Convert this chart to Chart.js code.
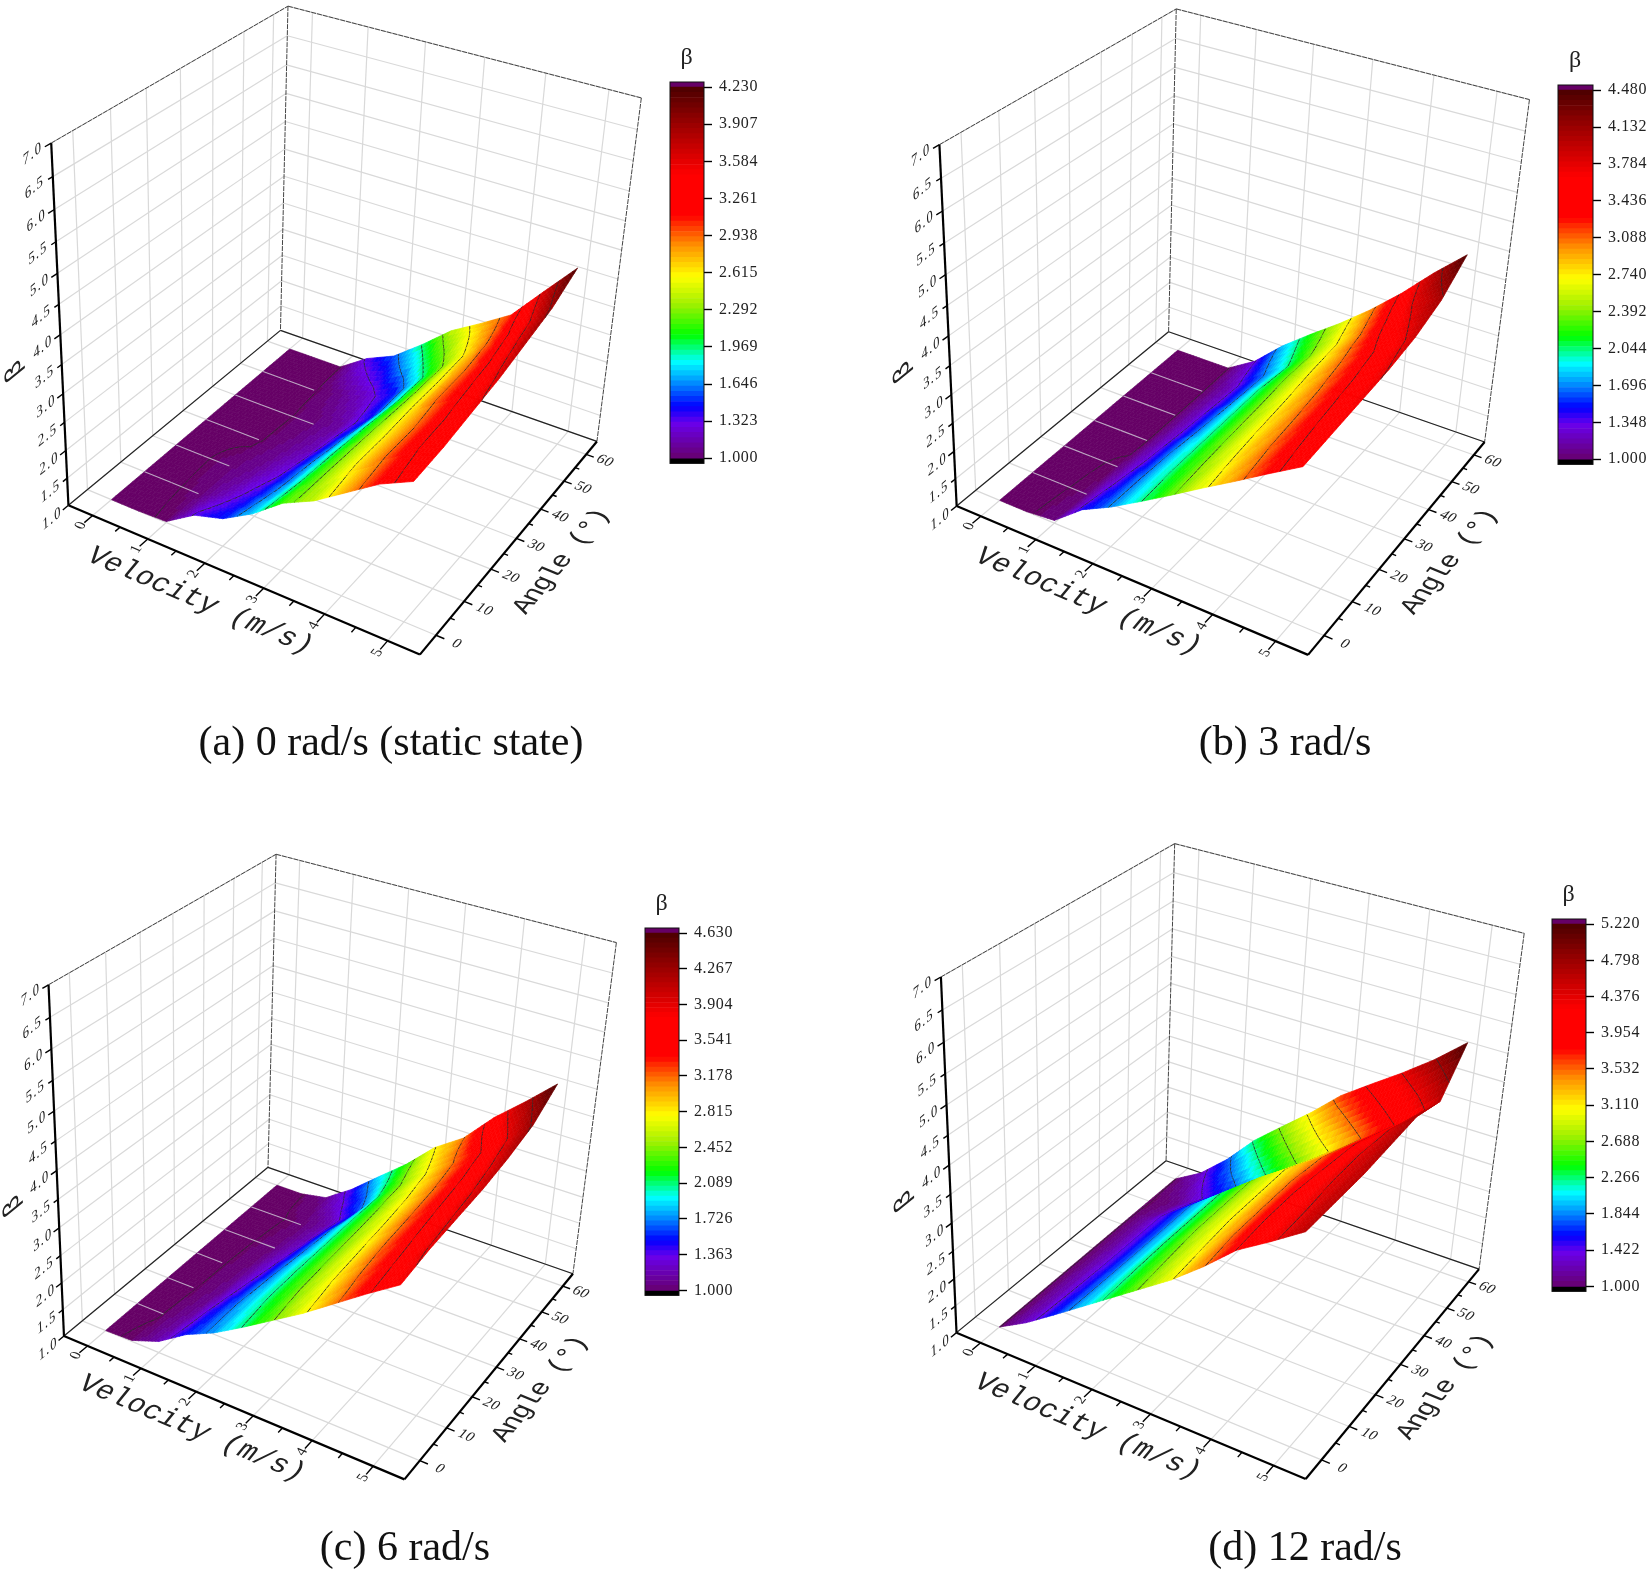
<!DOCTYPE html>
<html>
<head>
<meta charset="utf-8">
<title>Beta surfaces</title>
<script src="https://cdn.jsdelivr.net/npm/chart.js@4/dist/chart.umd.min.js"></script>
<style>
  html, body { margin: 0; background: #fff; }
  #page { position: relative; width: 1652px; height: 1574px; overflow: hidden; }
  #page canvas { position: absolute; }
  .caption { position: absolute; transform: translate(-50%, -50%); font: 42px "Liberation Serif", serif; color: #111; white-space: nowrap; }
</style>
</head>
<body>
<div id="page"></div>
<script>
// Axis values
const velocities = [0, 0.5, 1, 1.5, 2, 2.5, 3, 3.5, 4, 4.5, 5];
const angles = [0, 10, 20, 30, 40, 50, 60];
const velocityTicks = [0, 1, 2, 3, 4, 5];
const angleTicks = [0, 10, 20, 30, 40, 50, 60];
const betaTicks = [1, 1.5, 2, 2.5, 3, 3.5, 4, 4.5, 5, 5.5, 6, 6.5, 7];

// Beta, one row per angle, one column per velocity
const betaA = [
  [1, 1, 1.02, 1.35, 1.5, 1.8, 2.2, 2.45, 2.8, 3.15, 3.4],
  [1, 1, 1.03, 1.2, 1.4, 1.72, 2.15, 2.5, 2.85, 3.2, 3.45],
  [1, 1, 1.04, 1.12, 1.3, 1.68, 2.12, 2.5, 2.85, 3.2, 3.55],
  [1, 1, 1, 1.08, 1.2, 1.6, 2.08, 2.5, 2.9, 3.25, 3.65],
  [1, 1, 1, 1.05, 1.15, 1.48, 2.02, 2.5, 2.9, 3.3, 3.8],
  [1, 1, 1, 1.1, 1.25, 1.5, 2, 2.5, 2.95, 3.4, 3.95],
  [1, 1, 1, 1.35, 1.58, 1.98, 2.42, 2.73, 3.06, 3.65, 4.23]
];
const betaB = [
  [1, 1, 1.05, 1.46, 1.72, 2.03, 2.35, 2.68, 3, 3.33, 3.65],
  [1, 1, 1.03, 1.38, 1.72, 2.05, 2.38, 2.72, 3.05, 3.38, 3.7],
  [1, 1, 1.02, 1.32, 1.7, 2.05, 2.4, 2.75, 3.08, 3.42, 3.75],
  [1, 1, 1, 1.28, 1.66, 2.05, 2.42, 2.78, 3.12, 3.46, 3.8],
  [1, 1, 1, 1.25, 1.62, 2.05, 2.45, 2.82, 3.18, 3.52, 3.9],
  [1, 1, 1, 1.22, 1.6, 2, 2.45, 2.85, 3.3, 3.75, 4.1],
  [1, 1, 1, 1.32, 1.8, 2.2, 2.58, 3, 3.47, 4, 4.48]
];
const betaC = [
  [1, 1.02, 1.21, 1.55, 1.79, 2.1, 2.43, 2.76, 3.13, 3.5, 3.85],
  [1, 1.01, 1.15, 1.5, 1.82, 2.14, 2.48, 2.82, 3.2, 3.55, 3.95],
  [1, 1, 1.1, 1.42, 1.8, 2.15, 2.5, 2.85, 3.25, 3.6, 4],
  [1, 1, 1.08, 1.35, 1.75, 2.15, 2.52, 2.88, 3.28, 3.65, 4.05],
  [1, 1, 1.05, 1.25, 1.7, 2.15, 2.55, 2.92, 3.32, 3.7, 4.15],
  [1, 1, 1.03, 1.18, 1.55, 2.15, 2.6, 3, 3.38, 3.8, 4.3],
  [1, 1, 1.1, 1.45, 1.88, 2.3, 2.8, 3.15, 3.7, 4.15, 4.63]
];
const betaD = [
  [1, 1.29, 1.64, 2, 2.36, 2.72, 3.08, 3.5, 3.97, 4.3, 4.65],
  [1, 1.27, 1.62, 2, 2.38, 2.76, 3.12, 3.55, 4, 4.32, 4.65],
  [1, 1.26, 1.6, 2, 2.4, 2.8, 3.15, 3.55, 4, 4.35, 4.65],
  [1, 1.25, 1.6, 2, 2.4, 2.8, 3.15, 3.55, 3.95, 4.35, 4.7],
  [1, 1.25, 1.6, 2, 2.4, 2.8, 3.15, 3.5, 3.9, 4.3, 4.75],
  [1, 1.1, 1.4, 1.7, 2.1, 2.5, 2.9, 3.3, 3.7, 4.1, 4.6],
  [1, 1.3, 1.75, 2.3, 2.74, 3.17, 3.65, 4.02, 4.38, 4.77, 5.22]
];

// Colour bar tick labels
const barTicksA = [1, 1.323, 1.646, 1.969, 2.292, 2.615, 2.938, 3.261, 3.584, 3.907, 4.23];
const barTicksB = [1, 1.348, 1.696, 2.044, 2.392, 2.74, 3.088, 3.436, 3.784, 4.132, 4.48];
const barTicksC = [1, 1.363, 1.726, 2.089, 2.452, 2.815, 3.178, 3.541, 3.904, 4.267, 4.63];
const barTicksD = [1, 1.422, 1.844, 2.266, 2.688, 3.11, 3.532, 3.954, 4.376, 4.798, 5.22];

const captions = ['(a) 0 rad/s (static state)', '(b) 3 rad/s', '(c) 6 rad/s', '(d) 12 rad/s'];

// Layout: box corners on screen (O, U, UV, V, W, VW, UVW), colour bar box, caption centre
const panels = [
  { left: 0, top: 0, beta: betaA, ticks: barTicksA, caption: captions[0], capX: 391, capY: 741,
    box: [[68.5, 505], [419.9, 654.8], [597, 441.2], [280.3, 330.7], [51.1, 143.2], [288.2, 6], [641.2, 98]],
    bar: [670, 82, 34, 382] },
  { left: 826, top: 0, beta: betaB, ticks: barTicksB, caption: captions[1], capX: 1285, capY: 741,
    box: [[130.7, 506], [482.1, 654.8], [658.6, 442.2], [342.5, 331.7], [113.3, 144.7], [350.4, 9], [703.4, 99.5]],
    bar: [732, 84.5, 35, 380.5] },
  { left: 0, top: 787, beta: betaC, ticks: barTicksC, caption: captions[2], capX: 405, capY: 1546,
    box: [[64.3, 549.2], [404.1, 692.5], [573.2, 486.4], [267.7, 380.4], [48.5, 197.5], [276.1, 67.3], [616.4, 155.8]],
    bar: [645, 140.5, 34, 368] },
  { left: 826, top: 787, beta: betaD, ticks: barTicksD, caption: captions[3], capX: 1305, capY: 1546,
    box: [[130.7, 545.2], [479.5, 692.5], [653.3, 481.4], [339.8, 374.4], [114.9, 190], [348.8, 56.3], [698.1, 146.7]],
    bar: [726, 131.5, 34, 373] }
];

const VMIN = -0.45, VMAX = 5.5, AMIN = -5.5, AMAX = 65, BMIN = 1, BMAX = 7;
const PANEL_W = 826, PANEL_H = 787;
const SERIF = '"Liberation Serif", serif';
const MONO = '"Liberation Mono", monospace';

// Rainbow colour map, t from 0 to 1
const colorStops = [
  [0, 102, 0, 102], [0.1, 106, 0, 235], [0.146, 0, 0, 255], [0.21, 0, 144, 255],
  [0.266, 0, 255, 255], [0.338, 0, 255, 0], [0.42, 160, 240, 0], [0.495, 255, 255, 0],
  [0.58, 255, 144, 0], [0.64, 255, 40, 0], [0.66, 255, 0, 0], [0.77, 255, 0, 0],
  [0.92, 144, 0, 0], [1, 80, 0, 0]
];

function colorAt(t) {
  t = Math.max(0, Math.min(1, Math.round(t * 72) / 72));
  for (let i = 1; i < colorStops.length; i++) {
    if (t <= colorStops[i][0]) {
      const a = colorStops[i - 1], b = colorStops[i];
      const k = (t - a[0]) / (b[0] - a[0]);
      return `rgb(${Math.round(a[1] + k * (b[1] - a[1]))},${Math.round(a[2] + k * (b[2] - a[2]))},${Math.round(a[3] + k * (b[3] - a[3]))})`;
    }
  }
  return 'rgb(80,0,0)';
}

// Fit a perspective camera to the seven visible box corners
function fitCamera(box) {
  const unit = [[0, 0, 0], [1, 0, 0], [1, 1, 0], [0, 1, 0], [0, 0, 1], [0, 1, 1], [1, 1, 1]];
  const rows = [], rhs = [];
  unit.forEach((c, i) => {
    const X = box[i][0] / 500, Y = box[i][1] / 500;
    rows.push([1, c[0], c[1], c[2], 0, 0, 0, 0, -X * c[0], -X * c[1], -X * c[2]]); rhs.push(X);
    rows.push([0, 0, 0, 0, 1, c[0], c[1], c[2], -Y * c[0], -Y * c[1], -Y * c[2]]); rhs.push(Y);
  });
  const n = 11;
  const m = [];
  for (let i = 0; i < n; i++) {
    m.push(new Array(n + 1).fill(0));
    for (let j = 0; j < n; j++) rows.forEach(r => { m[i][j] += r[i] * r[j]; });
    rows.forEach((r, k) => { m[i][n] += r[i] * rhs[k]; });
  }
  for (let i = 0; i < n; i++) {
    let p = i;
    for (let k = i + 1; k < n; k++) if (Math.abs(m[k][i]) > Math.abs(m[p][i])) p = k;
    [m[i], m[p]] = [m[p], m[i]];
    for (let k = 0; k < n; k++) {
      if (k === i) continue;
      const f = m[k][i] / m[i][i];
      for (let j = i; j <= n; j++) m[k][j] -= f * m[i][j];
    }
  }
  const q = m.map((r, i) => r[n] / r[i]);
  return function (v, a, b) {
    const u = (v - VMIN) / (VMAX - VMIN), s = (a - AMIN) / (AMAX - AMIN), w = (b - BMIN) / (BMAX - BMIN);
    const d = 1 + q[8] * u + q[9] * s + q[10] * w;
    return [500 * (q[0] + q[1] * u + q[2] * s + q[3] * w) / d, 500 * (q[4] + q[5] * u + q[6] * s + q[7] * w) / d];
  };
}

// Draws walls, floor, axes and the surface through the chart's x and y scales
function makeSurfacePlugin(panel, project) {
  return {
    id: 'surface3d',
    afterDatasetsDraw(chart) {
      const { ctx, scales } = chart;
      const pt = (v, a, b) => {
        const p = project(v, a, b);
        return [scales.x.getPixelForValue(p[0]), scales.y.getPixelForValue(p[1])];
      };
      const line = (p, q, color, width, dash) => {
        ctx.beginPath();
        ctx.moveTo(p[0], p[1]);
        ctx.lineTo(q[0], q[1]);
        ctx.strokeStyle = color;
        ctx.lineWidth = width;
        ctx.setLineDash(dash || []);
        ctx.stroke();
        ctx.setLineDash([]);
      };
      const dir = (p, q) => Math.atan2(q[1] - p[1], q[0] - p[0]);
      const label = (text, at, xAngle, yAngle, font, spacing) => {
        ctx.save();
        ctx.translate(at[0], at[1]);
        ctx.transform(Math.cos(xAngle), Math.sin(xAngle), Math.cos(yAngle), Math.sin(yAngle), 0, 0);
        ctx.font = font;
        ctx.letterSpacing = (spacing || 0) + 'px';
        ctx.textAlign = 'center';
        ctx.textBaseline = 'middle';
        ctx.fillStyle = '#222';
        ctx.fillText(text, 0, 0);
        ctx.restore();
      };

      // Grid lines on the two walls and the floor
      const grey = '#d9d9d9';
      betaTicks.forEach(b => {
        line(pt(VMIN, AMIN, b), pt(VMIN, AMAX, b), grey, 1.2);
        line(pt(VMIN, AMAX, b), pt(VMAX, AMAX, b), grey, 1.2);
      });
      angleTicks.forEach(a => {
        line(pt(VMIN, a, BMIN), pt(VMIN, a, BMAX), grey, 1.2);
        line(pt(VMIN, a, BMIN), pt(VMAX, a, BMIN), grey, 1.2);
      });
      velocityTicks.forEach(v => {
        line(pt(v, AMAX, BMIN), pt(v, AMAX, BMAX), grey, 1.2);
        line(pt(v, AMIN, BMIN), pt(v, AMAX, BMIN), grey, 1.2);
      });

      // Frame
      const frame = '#444';
      line(pt(VMIN, AMIN, BMAX), pt(VMIN, AMAX, BMAX), frame, 1, [5, 1]);
      line(pt(VMIN, AMAX, BMAX), pt(VMAX, AMAX, BMAX), frame, 1, [5, 1]);
      line(pt(VMAX, AMAX, BMAX), pt(VMAX, AMAX, BMIN), frame, 1, [5, 1]);
      line(pt(VMIN, AMAX, BMAX), pt(VMIN, AMAX, BMIN), frame, 1, [5, 1]);
      line(pt(VMIN, AMIN, BMIN), pt(VMIN, AMAX, BMIN), '#222', 1.2);
      line(pt(VMIN, AMAX, BMIN), pt(VMAX, AMAX, BMIN), '#222', 1.2);

      // Surface, far cells first, each cell cut into small coloured pieces
      const beta = panel.beta;
      const top = panel.ticks[panel.ticks.length - 1];
      const levels = [1.012].concat(panel.ticks.slice(1, -1));
      const steps = 8;
      const valueAt = (i, j, s, t) =>
        (beta[j][i] * (1 - s) + beta[j][i + 1] * s) * (1 - t) + (beta[j + 1][i] * (1 - s) + beta[j + 1][i + 1] * s) * t;
      for (let j = angles.length - 2; j >= 0; j--) {
        const a0 = angles[j], a1 = angles[j + 1];
        for (let n = steps - 1; n >= 0; n--) {
          for (let i = 0; i < velocities.length - 1; i++) {
            const v0 = velocities[i], v1 = velocities[i + 1];
            for (let k = 0; k < steps; k++) {
              const s0 = k / steps, s1 = (k + 1) / steps, t0 = n / steps, t1 = (n + 1) / steps;
              const c = [[s0, t0], [s1, t0], [s1, t1], [s0, t1]].map(e => {
                const b = valueAt(i, j, e[0], e[1]);
                return { b, p: pt(v0 + e[0] * (v1 - v0), a0 + e[1] * (a1 - a0), b) };
              });
              const mean = (c[0].b + c[1].b + c[2].b + c[3].b) / 4;
              const color = colorAt((mean - 1) / (top - 1));
              ctx.beginPath();
              ctx.moveTo(c[0].p[0], c[0].p[1]);
              for (let e = 1; e < 4; e++) ctx.lineTo(c[e].p[0], c[e].p[1]);
              ctx.closePath();
              ctx.fillStyle = color;
              ctx.fill();
              ctx.strokeStyle = color;
              ctx.lineWidth = 0.7;
              ctx.stroke();
              // contour pieces inside this small cell
              levels.forEach(l => {
                const cross = [];
                for (let e = 0; e < 4; e++) {
                  const p = c[e], q = c[(e + 1) % 4];
                  if ((p.b < l) !== (q.b < l)) {
                    const f = (l - p.b) / (q.b - p.b);
                    cross.push([p.p[0] + f * (q.p[0] - p.p[0]), p.p[1] + f * (q.p[1] - p.p[1])]);
                  }
                }
                if (cross.length >= 2) line(cross[0], cross[1], 'rgba(45,45,45,0.9)', 1);
              });
            }
          }
        }
      }

      // Floor lines showing through where the surface lies flat on the floor
      for (let j = 1; j < angles.length - 1; j++) {
        for (let i = 0; i < velocities.length - 1; i++) {
          if (beta[j][i] <= 1.0 && beta[j][i + 1] <= 1.05) {
            line(pt(velocities[i], angles[j], 1), pt(velocities[i + 1], angles[j], 1), 'rgba(205,195,210,0.85)', 1.1);
          }
        }
      }

      // Axes and tick marks
      line(pt(VMIN, AMIN, BMIN), pt(VMIN, AMIN, BMAX), '#000', 2.2);
      line(pt(VMIN, AMIN, BMIN), pt(VMAX, AMIN, BMIN), '#000', 2.2);
      line(pt(VMAX, AMIN, BMIN), pt(VMAX, AMAX, BMIN), '#000', 2.2);
      betaTicks.forEach((b, n) => {
        line(pt(VMIN, AMIN, b), pt(VMIN, AMIN - (n % 2 ? 1.2 : 1.6), b), '#000', 1.4);
      });
      for (let v = 0; v <= 5; v += 0.5) {
        const major = Number.isInteger(v);
        line(pt(v, AMIN, BMIN), pt(v, AMIN - (major ? 2.4 : 1.4), BMIN), '#000', 1.4);
      }
      for (let a = 0; a <= 60; a += 5) {
        const major = a % 10 === 0;
        line(pt(VMAX, a, BMIN), pt(VMAX + (major ? 0.13 : 0.07), a, BMIN), '#000', 1.4);
      }

      // Tick labels lie in the plane of their axis
      const vDir = dir(pt(VMIN, AMIN, BMIN), pt(VMAX, AMIN, BMIN));
      const aDir = dir(pt(VMAX, AMIN, BMIN), pt(VMAX, AMAX, BMIN));
      const wallDir = dir(pt(VMIN, AMIN, BMIN), pt(VMIN, AMAX, BMIN));
      const upDir = dir(pt(VMIN, AMIN, BMAX), pt(VMIN, AMIN, BMIN));
      betaTicks.forEach(b => {
        label(b.toFixed(1), pt(VMIN, AMIN - 4.6, b), wallDir, upDir, `16px ${SERIF}`, 1.6);
      });
      velocityTicks.forEach(v => {
        label(String(v), pt(v, AMIN - 3.4, BMIN), aDir, vDir, `15px ${SERIF}`);
      });
      angleTicks.forEach(a => {
        label(String(a), pt(VMAX + 0.32, a, BMIN), vDir, aDir + Math.PI, `15px ${SERIF}`, 0.5);
      });

      // Axis titles
      label('Velocity (m/s)', pt(2.41, AMIN - 8.5, BMIN), vDir, aDir + Math.PI, `29px ${MONO}`, -0.2);
      label('Angle (°)', pt(VMAX + 0.78, 28.5, BMIN), aDir, vDir, `27px ${MONO}`, -1.6);
      label('β', pt(VMIN, AMIN - 12, 3.95), upDir + Math.PI, wallDir, `28px ${MONO}`);
    }
  };
}

// Colour bar frame and its title
const barFramePlugin = {
  id: 'barFrame',
  beforeDraw(chart) {
    chart.ctx.letterSpacing = '0.6px';
  },
  afterDraw(chart) {
    const { ctx, chartArea } = chart;
    ctx.strokeStyle = '#111';
    ctx.lineWidth = 1;
    ctx.strokeRect(chartArea.left, chartArea.top, chartArea.right - chartArea.left, chartArea.bottom - chartArea.top);
    ctx.font = `24px ${SERIF}`;
    ctx.fillStyle = '#222';
    ctx.textAlign = 'center';
    ctx.textBaseline = 'middle';
    ctx.fillText('β', (chartArea.left + chartArea.right) / 2, chartArea.top - 24);
  }
};

function addCanvas(x, y, w, h) {
  const canvas = document.createElement('canvas');
  canvas.style.left = x + 'px';
  canvas.style.top = y + 'px';
  canvas.style.width = w + 'px';
  canvas.style.height = h + 'px';
  canvas.width = w;
  canvas.height = h;
  document.getElementById('page').appendChild(canvas);
  return canvas;
}

function drawSurfaceChart(panel) {
  const project = fitCamera(panel.box);
  const canvas = addCanvas(panel.left, panel.top, PANEL_W, PANEL_H);
  const datasets = panel.beta.map((row, j) => ({
    label: 'angle ' + angles[j],
    data: row.map((b, i) => {
      const p = project(velocities[i], angles[j], b);
      return { x: p[0], y: p[1] };
    }),
    pointRadius: 0,
    showLine: false
  }));
  new Chart(canvas, {
    type: 'scatter',
    data: { datasets: datasets },
    options: {
      responsive: false,
      animation: false,
      events: [],
      layout: { padding: 0 },
      scales: {
        x: { type: 'linear', display: false, min: 0, max: PANEL_W },
        y: { type: 'linear', display: false, min: 0, max: PANEL_H, reverse: true }
      },
      plugins: { legend: { display: false }, tooltip: { enabled: false } }
    },
    plugins: [makeSurfacePlugin(panel, project)]
  });
}

function drawColorBar(panel) {
  const [x, y, w, h] = panel.bar;
  const top = panel.ticks[panel.ticks.length - 1];
  const cap = (top - 1) * 0.014;
  const pad = 44, side = 76, below = 16;
  const canvas = addCanvas(panel.left + x - 2, panel.top + y - pad, w + 2 + side, h + pad + below);
  const count = 72;
  const datasets = [];
  for (let i = 0; i < count; i++) {
    const lo = 1 + (top - 1) * i / count, hi = 1 + (top - 1) * (i + 1) / count;
    datasets.push({ data: [[lo, hi]], backgroundColor: colorAt((i + 0.5) / count), borderWidth: 0 });
  }
  datasets.push({ data: [[1 - cap, 1]], backgroundColor: '#000', borderWidth: 0 });
  datasets.push({ data: [[top, top + cap]], backgroundColor: '#660066', borderWidth: 0 });
  new Chart(canvas, {
    type: 'bar',
    data: { labels: ['β'], datasets: datasets },
    options: {
      responsive: false,
      animation: false,
      events: [],
      layout: { padding: { left: 2, top: pad, bottom: below, right: 0 } },
      datasets: { bar: { barPercentage: 1, categoryPercentage: 1 } },
      scales: {
        x: { display: false, stacked: true },
        y: {
          position: 'right',
          min: 1 - cap,
          max: top + cap,
          afterBuildTicks: scale => { scale.ticks = panel.ticks.map(v => ({ value: v })); },
          afterFit: scale => { scale.width = side; },
          grid: { drawOnChartArea: false, tickLength: 8, color: '#000', tickWidth: 1.4 },
          border: { display: false },
          ticks: {
            autoSkip: false,
            padding: 7,
            color: '#222',
            font: { family: 'Liberation Serif', size: 16 },
            callback: v => Number(v).toFixed(3)
          }
        }
      },
      plugins: { legend: { display: false }, tooltip: { enabled: false } }
    },
    plugins: [barFramePlugin]
  });
}

panels.forEach(panel => {
  drawSurfaceChart(panel);
  drawColorBar(panel);
  const div = document.createElement('div');
  div.className = 'caption';
  div.style.left = panel.capX + 'px';
  div.style.top = panel.capY + 'px';
  div.textContent = panel.caption;
  document.getElementById('page').appendChild(div);
});
</script>
</body>
</html>
